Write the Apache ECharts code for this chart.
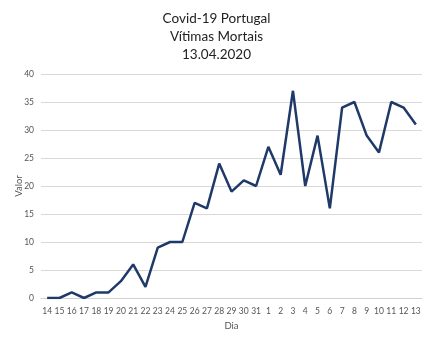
<!DOCTYPE html>
<html><head><meta charset="utf-8">
<script src="https://cdn.jsdelivr.net/npm/echarts@6/dist/echarts.min.js"></script>
<style>html,body{margin:0;padding:0;background:#fff}#c{width:433px;height:345px}</style>
</head><body><div id="c"></div>
<script>
const days = ['14','15','16','17','18','19','20','21','22','23','24','25','26','27','28','29','30','31','1','2','3','4','5','6','7','8','9','10','11','12','13'];
const deaths = [0,0,1,0,1,1,3,6,2,9,10,10,17,16,24,19,21,20,27,22,37,20,29,16,34,35,29,26,35,34,31];
const titleLines = ['Covid-19 Portugal','Vítimas Mortais','13.04.2020'];
const chart = echarts.init(document.getElementById('c'), null, {renderer:'canvas'});
const font = 'Lato';
chart.setOption({
  animation:false,
  backgroundColor:'#fff',
  title:{text:titleLines.join('\n'), left:'center', top:5,
    textStyle:{fontFamily:font, fontSize:13.5, fontWeight:'normal', color:'#222', lineHeight:18}},
  grid:{left:41, right:11, top:74, bottom:47, containLabel:false, outerBoundsMode:'none'},
  xAxis:{type:'category', data:days, boundaryGap:true, name:'Dia', nameLocation:'middle', nameGap:23,
    nameMoveOverlap:false,
    nameTextStyle:{fontFamily:font, fontSize:9.5, color:'#555'},
    axisLine:{lineStyle:{color:'#d0d0d0'}}, axisTick:{show:false},
    axisLabel:{interval:0, fontFamily:font, fontSize:8.5, color:'#555', margin:9}},
  yAxis:{type:'value', min:0, max:40, interval:5, name:'Valor', nameLocation:'middle', nameGap:17,
    nameMoveOverlap:false,
    nameTextStyle:{fontFamily:font, fontSize:9.5, color:'#555'},
    axisLine:{show:false}, axisTick:{show:false},
    axisLabel:{fontFamily:font, fontSize:8.5, color:'#555', margin:7}},
  series:[{type:'line', data:deaths, symbol:'none', lineStyle:{color:'#1f3a68', width:2.5}}]
});
chart.setOption({yAxis:{splitLine:{lineStyle:{color:'#d9d9d9'}}}});
</script></body></html>
